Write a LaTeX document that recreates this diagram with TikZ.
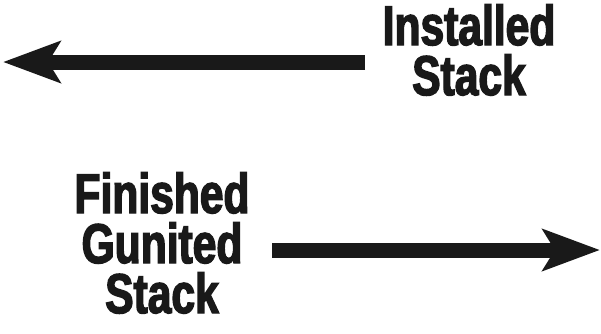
\documentclass[tikz,border=0pt]{standalone}
\usepackage{fontspec}
\setmainfont{Liberation Sans}[FakeStretch=0.76, FakeBold=2.5]
\usetikzlibrary{arrows.meta}

\begin{document}
\begin{tikzpicture}[x=1pt, y=-1pt,
        stackarrow/.style={line width=15pt, draw=black!90, -{Stealth[length=57pt, width=41pt, inset=12pt]}},
        stacklabel/.style={align=center, inner sep=0pt, font=\fontsize{56}{50}\selectfont\bfseries, text=black!90}]
            \useasboundingbox (0, 0) rectangle (601, 333);

            \node[stacklabel] (installed) at (469, 50) {Installed\\Stack};
            \node[stacklabel] (finished) at (162, 243) {Finished\\Gunited\\Stack};

            \coordinate (installedstart) at (365, 62);
            \coordinate (installedtip) at (3, 62);
            \coordinate (finishedstart) at (272, 250);
            \coordinate (finishedtip) at (600, 250);

            \draw[stackarrow] (installedstart) -- (installedtip);
            \draw[stackarrow] (finishedstart) -- (finishedtip);
        \end{tikzpicture}
\end{document}
